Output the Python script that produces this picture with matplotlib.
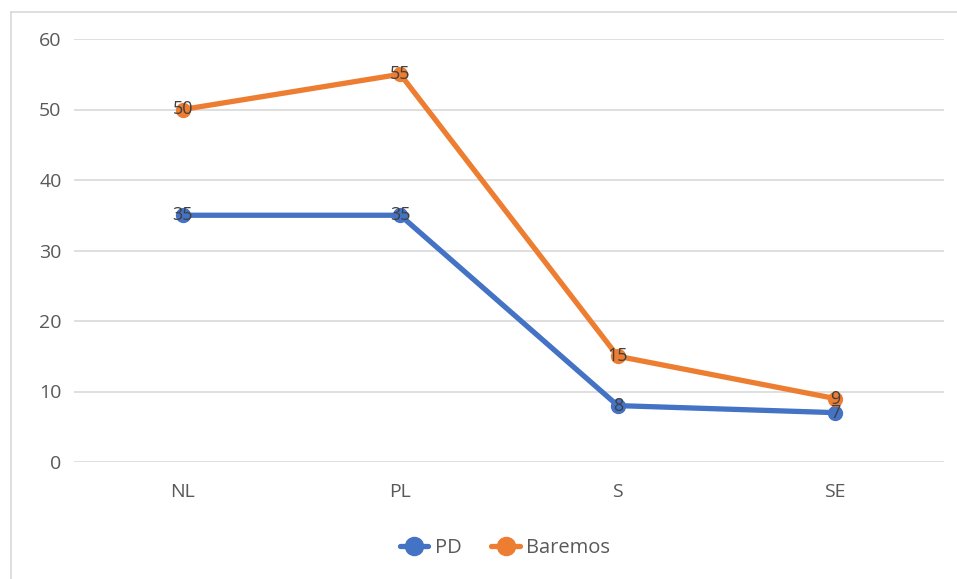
import matplotlib
matplotlib.use("Agg")
import matplotlib.pyplot as plt
from matplotlib.lines import Line2D

plt.rcParams['font.family'] = ['Open Sans', 'DejaVu Sans']

categories = ["NL", "PL", "S", "SE"]
pd_values = [35, 35, 8, 7]
baremos_values = [50, 55, 15, 9]
y_ticks = [0, 10, 20, 30, 40, 50, 60]

blue = "#4472C4"
orange = "#ED7D31"
grid = "#D9D9D9"
tick_color = "#595959"
label_color = "#404040"

fig = plt.figure(figsize=(9.57, 5.79), dpi=100)
ax = fig.add_axes([74 / 957, 1 - 462 / 579, (944 - 74) / 957, (462 - 39) / 579])

# outer chart frame (left and top edges)
fig.add_artist(Line2D([11 / 957, 11 / 957], [0, 1 - 12 / 579], color=grid, lw=1.2,
                      transform=fig.transFigure))
fig.add_artist(Line2D([11 / 957, 1], [1 - 12 / 579, 1 - 12 / 579], color=grid, lw=1.2,
                      transform=fig.transFigure))

x = list(range(len(categories)))
for vals, col, name in [(pd_values, blue, "PD"), (baremos_values, orange, "Baremos")]:
    ax.plot(x, vals, color=col, lw=3.8, marker="o", markersize=10,
            solid_capstyle="round", solid_joinstyle="round", label=name, zorder=3)
    for xi, v in zip(x, vals):
        ax.text(xi, v, str(v), ha="center", va="center", fontsize=13,
                color=label_color, zorder=4)

ax.set_xlim(-0.5, len(categories) - 0.5)
ax.set_ylim(0, 60)
ax.set_yticks(y_ticks)
ax.set_xticks(x)
ax.set_xticklabels(categories)
ax.yaxis.grid(True, color=grid, lw=1.2)
ax.set_axisbelow(True)
for s in ax.spines.values():
    s.set_visible(False)
ax.tick_params(axis="both", length=0, colors=tick_color, labelsize=14)
ax.tick_params(axis="y", pad=9)
ax.tick_params(axis="x", pad=15)

ax.legend(loc="center", bbox_to_anchor=(505 / 957, (579 - 548) / 579), bbox_transform=fig.transFigure,
          ncol=2, frameon=False, fontsize=14.5, labelcolor=tick_color,
          handlelength=1.4, columnspacing=1.5, handletextpad=0.3, markerscale=1.3)

fig.savefig("out.png", dpi=100, facecolor="white")
